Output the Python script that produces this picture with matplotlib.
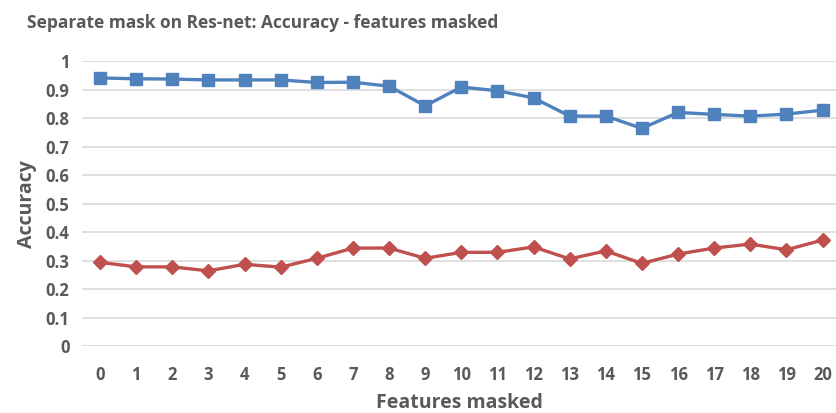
import matplotlib.pyplot as plt

# data
features = list(range(21))
acc_blue = [0.941, 0.938, 0.937, 0.934, 0.934, 0.934, 0.925, 0.926, 0.912, 0.843,
            0.909, 0.896, 0.871, 0.807, 0.807, 0.764, 0.820, 0.813, 0.807, 0.814, 0.828]
acc_red = [0.294, 0.278, 0.278, 0.264, 0.287, 0.277, 0.308, 0.344, 0.344, 0.308,
           0.329, 0.329, 0.348, 0.306, 0.334, 0.290, 0.323, 0.344, 0.358, 0.338, 0.372]
y_ticks = [0, 0.1, 0.2, 0.3, 0.4, 0.5, 0.6, 0.7, 0.8, 0.9, 1]
y_labels = ['0', '0.1', '0.2', '0.3', '0.4', '0.5', '0.6', '0.7', '0.8', '0.9', '1']

BLUE = '#4F81BD'
RED = '#C0504D'
TEXT = '#595959'
GRID = '#D9D9D9'

plt.rcParams['font.family'] = ['Open Sans', 'DejaVu Sans']

fig = plt.figure(figsize=(8.37, 4.13), dpi=100)
ax = fig.add_axes([0.098, 0.162, 0.902, 0.690])

ax.plot(features, acc_blue, color=BLUE, lw=2.4, marker='s', markersize=9, zorder=3)
ax.plot(features, acc_red, color=RED, lw=2.4, marker='D', markersize=7, zorder=3)

ax.set_xlim(-0.5, 20.4)
ax.set_ylim(0, 1)
ax.set_yticks(y_ticks)
ax.set_yticklabels(y_labels)
ax.set_xticks(features)
ax.grid(axis='y', color=GRID, lw=1.2)
ax.set_axisbelow(True)
for s in ax.spines.values():
    s.set_visible(False)
ax.tick_params(length=0, labelsize=12, labelcolor=TEXT, pad=9)
for lbl in ax.get_xticklabels() + ax.get_yticklabels():
    lbl.set_fontweight('bold')
ax.tick_params(axis='x', pad=14)

ax.set_ylabel('Accuracy', fontsize=14, fontweight='bold', color=TEXT, labelpad=6)
ax.set_xlabel('Features masked', fontsize=14, fontweight='bold', color=TEXT, labelpad=7)
fig.text(0.314, 0.945, 'Separate mask on Res-net: Accuracy - features masked',
         ha='center', va='center', fontsize=12.5, fontweight='bold', color=TEXT)

fig.savefig('out.png', dpi=100)
